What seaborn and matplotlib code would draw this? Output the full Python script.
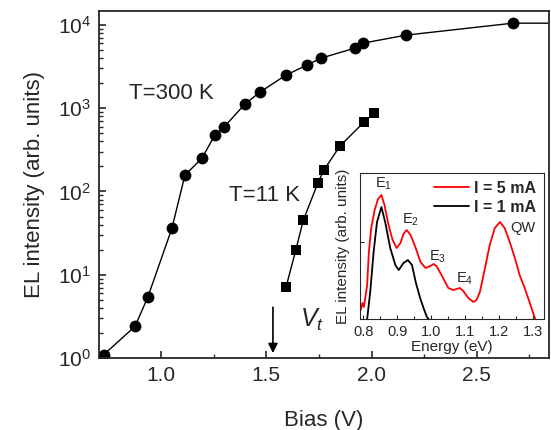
import numpy as np
import pandas as pd
import matplotlib
matplotlib.use("Agg")
import matplotlib.pyplot as plt
import seaborn as sns
from matplotlib.ticker import LogLocator, MultipleLocator, NullFormatter

# main panel: EL intensity vs bias
bias_300 = [0.729, 0.877, 0.938, 1.052, 1.114, 1.195, 1.256, 1.299, 1.399, 1.470,
            1.594, 1.693, 1.760, 1.921, 1.959, 2.163, 2.671, 3.000]
el_300 = [1.1, 2.4, 5.4, 36, 157, 251, 475, 593, 1120, 1560,
          2500, 3290, 3990, 5270, 6040, 7540, 10500, 10500]

bias_11 = [1.594, 1.641, 1.676, 1.745, 1.774, 1.850, 1.964, 2.011]
el_11 = [7.1, 20, 45, 126, 181, 351, 680, 870]

# inset: EL spectra
energy_5ma = [0.792, 0.797, 0.801, 0.805, 0.811, 0.816, 0.823, 0.833, 0.843, 0.853,
              0.862, 0.874, 0.886, 0.898, 0.909, 0.918, 0.927, 0.939, 0.953, 0.968,
              0.983, 0.997, 1.007, 1.015, 1.030, 1.050, 1.065, 1.084, 1.094, 1.109,
              1.124, 1.133, 1.143, 1.158, 1.172, 1.187, 1.202, 1.216, 1.231, 1.246,
              1.260, 1.275, 1.290, 1.299, 1.306]
int_5ma = [9, 16, 12, 20, 34, 67, 91, 109, 120, 124,
           114, 94, 79, 71, 76, 85, 89, 84, 72, 57,
           51, 53, 55, 53, 44, 31, 29, 31, 28, 21,
           17, 19, 27, 51, 74, 91, 97, 91, 77, 61,
           44, 31, 16, 7, 0]

energy_1ma = [0.811, 0.820, 0.830, 0.840, 0.853, 0.864, 0.879, 0.894, 0.904, 0.918,
              0.931, 0.943, 0.954, 0.967, 0.977, 0.987, 0.992]
int_1ma = [0, 27, 67, 97, 112, 97, 71, 54, 49, 56,
           59, 54, 37, 21, 11, 2, 0]

sns.set_style("ticks")
plt.rcParams["font.family"] = ["Liberation Sans", "DejaVu Sans"]
plt.rcParams["mathtext.fontset"] = "custom"
plt.rcParams["mathtext.rm"] = "Liberation Sans"
plt.rcParams["mathtext.it"] = "Liberation Sans:italic"

fig = plt.figure(figsize=(5.51, 4.30), dpi=100)
ax = fig.add_axes([0.1797, 0.1674, 0.8167, 0.807])

df300 = pd.DataFrame({"bias": bias_300, "el": el_300})
df11 = pd.DataFrame({"bias": bias_11, "el": el_11})
sns.lineplot(data=df300, x="bias", y="el", ax=ax, color="black", lw=1,
             marker="o", markersize=8.5, markeredgewidth=0, sort=False, estimator=None)
sns.lineplot(data=df11, x="bias", y="el", ax=ax, color="black", lw=1,
             marker="s", markersize=6.5, markeredgewidth=0, sort=False, estimator=None)

ax.set_yscale("log")
ax.set_xlim(0.706, 2.843)
ax.set_ylim(1, 14700)
ax.xaxis.set_major_locator(MultipleLocator(0.5))
ax.xaxis.set_minor_locator(MultipleLocator(0.25))
ax.yaxis.set_major_locator(LogLocator(base=10, numticks=10))
ax.yaxis.set_minor_locator(LogLocator(base=10, subs=np.arange(2, 10), numticks=10))
ax.yaxis.set_minor_formatter(NullFormatter())
ax.tick_params(which="major", direction="in", length=5, width=1.2, labelsize=15, pad=6)
ax.tick_params(which="minor", direction="in", length=3, width=1)
for s in ax.spines.values():
    s.set_linewidth(1.3)
ax.set_xlabel("Bias (V)", fontsize=16, labelpad=18)
ax.set_ylabel("EL intensity (arb. units)", fontsize=16, labelpad=9)

ax.text(1.052, 1520, "T=300 K", fontsize=16, ha="center", va="center")
ax.text(1.494, 90, "T=11 K", fontsize=16, ha="center", va="center")
ax.annotate("", xy=(1.532, 1.06), xytext=(1.532, 4.4),
            arrowprops=dict(arrowstyle="-|>", color="black", lw=1.2, mutation_scale=14))
ax.text(1.717, 2.9, "$V_t$", fontsize=18, ha="center", va="center")

# inset
axi = fig.add_axes([0.6534, 0.2581, 0.334, 0.3395])
dfa = pd.DataFrame({"energy": energy_5ma, "el": int_5ma})
dfb = pd.DataFrame({"energy": energy_1ma, "el": int_1ma})
sns.lineplot(data=dfa, x="energy", y="el", ax=axi, color="red", lw=1.3,
             sort=False, estimator=None, label="I = 5 mA")
sns.lineplot(data=dfb, x="energy", y="el", ax=axi, color="black", lw=1.3,
             sort=False, estimator=None, label="I = 1 mA")
axi.set_xlim(0.79, 1.332)
axi.set_ylim(0, 146)
axi.xaxis.set_major_locator(MultipleLocator(0.1))
axi.xaxis.set_minor_locator(MultipleLocator(0.05))
axi.set_yticks([77])
axi.set_yticklabels([])
axi.tick_params(which="major", direction="in", length=3, width=0.8, labelsize=10.5, pad=4)
axi.tick_params(which="minor", direction="in", length=2, width=0.8)
for s in axi.spines.values():
    s.set_linewidth(0.8)
axi.set_xlabel("Energy (eV)", fontsize=11, labelpad=1)
axi.set_ylabel("EL intensity (arb. units)", fontsize=11, labelpad=3)
leg = axi.legend(loc="upper right", frameon=False, fontsize=11.5, handlelength=2.2,
                 handletextpad=0.3, labelspacing=0.25, borderaxespad=0.1)
for t in leg.get_texts():
    t.set_fontweight("bold")

axi.text(0.858, 135, "E$_1$", fontsize=10.5, ha="center", va="center")
axi.text(0.939, 99, "E$_2$", fontsize=10.5, ha="center", va="center")
axi.text(1.018, 62, "E$_3$", fontsize=10.5, ha="center", va="center")
axi.text(1.098, 40, "E$_4$", fontsize=10.5, ha="center", va="center")
axi.text(1.27, 91, "QW", fontsize=10.5, ha="center", va="center")

fig.savefig("out.png", dpi=100)
